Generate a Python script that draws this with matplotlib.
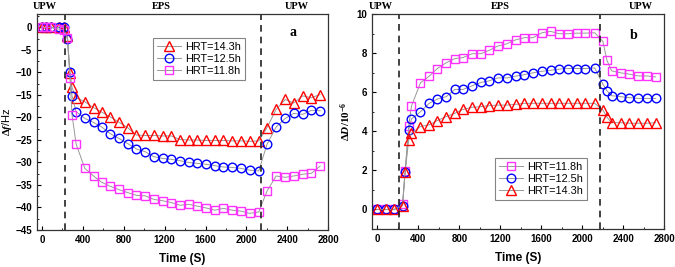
import matplotlib
matplotlib.use("Agg")
import matplotlib.pyplot as plt
from matplotlib.ticker import MultipleLocator

plt.rcParams['font.family'] = ['Liberation Sans', 'DejaVu Sans']
plt.rcParams['mathtext.fontset'] = 'custom'
plt.rcParams['mathtext.rm'] = 'Liberation Serif:bold'
plt.rcParams['mathtext.it'] = 'Liberation Serif:italic:bold'
plt.rcParams['mathtext.bf'] = 'Liberation Serif:bold'

# panel a: frequency shift
time_a = [0, 40, 85, 170, 215, 250, 275, 295, 335, 420, 505, 585, 670, 750, 840,
          925, 1010, 1095, 1180, 1265, 1350, 1435, 1520, 1605, 1690, 1775, 1860,
          1945, 2030, 2120, 2200, 2290, 2380, 2460, 2550, 2635, 2720]
df_143 = [0, 0, 0, 0, 0, -1.8, -10.1, -13.3, -15.6, -16.5, -17.8, -18.8, -19.9, -21.0,
          -22.3, -23.9, -24.0, -24.0, -24.1, -24.1, -24.9, -25.0, -25.0, -25.1, -25.1,
          -25.1, -25.2, -25.2, -25.3, -25.2, -22.3, -18.2, -16.0, -16.8, -15.2, -15.6, -14.9]
df_125 = [0, 0, 0, 0, 0, -2.6, -10.0, -15.2, -18.7, -20.2, -21.1, -22.1, -23.6, -24.6,
          -25.8, -27.0, -27.6, -28.7, -29.1, -29.3, -29.6, -30.0, -30.2, -30.4, -30.7,
          -31.0, -31.1, -31.3, -31.7, -31.9, -26.0, -22.1, -20.2, -19.1, -19.3, -18.4, -18.5]
df_118 = [0, 0, 0, -0.4, -0.5, -2.4, -11.3, -19.4, -25.9, -31.3, -33.0, -34.4, -35.3,
          -36.0, -36.7, -37.3, -37.4, -38.2, -38.5, -38.9, -39.5, -39.3, -39.7, -40.1,
          -40.6, -40.2, -40.6, -40.8, -41.3, -41.0, -36.4, -33.0, -33.3, -33.0, -32.6,
          -32.4, -30.8]

# panel b: dissipation shift
time_b = [0, 85, 165, 245, 270, 305, 332, 420, 505, 585, 670, 755, 835, 925, 1010,
          1090, 1175, 1265, 1350, 1435, 1520, 1605, 1690, 1775, 1860, 1945, 2030,
          2120, 2200, 2240, 2285, 2375, 2460, 2545, 2630, 2715]
dd_118 = [0, 0, 0, 0.3, 1.95, 4.27, 5.29, 6.48, 6.82, 7.21, 7.5, 7.72, 7.77, 7.97, 7.97,
          8.14, 8.36, 8.48, 8.68, 8.79, 8.79, 9.04, 9.11, 8.99, 8.99, 9.02, 9.02, 9.04,
          8.6, 7.63, 7.09, 6.99, 6.92, 6.83, 6.83, 6.78]
dd_125 = [0, 0, 0, 0.2, 1.9, 4.07, 4.63, 5.0, 5.43, 5.65, 5.77, 6.14, 6.14, 6.33, 6.5,
          6.58, 6.73, 6.73, 6.82, 6.9, 6.99, 7.07, 7.12, 7.18, 7.21, 7.21, 7.21, 7.24,
          6.41, 6.07, 5.82, 5.77, 5.72, 5.68, 5.68, 5.68]
dd_143 = [0, 0, 0, 0.2, 1.9, 3.56, 3.9, 4.24, 4.33, 4.55, 4.75, 4.92, 5.12, 5.23, 5.26,
          5.31, 5.34, 5.34, 5.38, 5.43, 5.43, 5.43, 5.43, 5.43, 5.43, 5.43, 5.43, 5.43,
          5.09, 4.72, 4.44, 4.44, 4.41, 4.41, 4.41, 4.44]

switch_a = [230, 2140]
switch_b = [212, 2175]

STYLE = {
    '14.3': dict(marker='^', mec='red', ms=7),
    '12.5': dict(marker='o', mec='blue', ms=6.2),
    '11.8': dict(marker='s', mec='#ff33ff', ms=5.4),
}

fig = plt.figure(figsize=(6.75, 2.67), dpi=100)
ax_a = fig.add_axes([0.0544, 0.1386, 0.432, 0.809])
ax_b = fig.add_axes([0.5516, 0.1423, 0.4326, 0.8053])


def draw(ax, t, series):
    for key, y in series:
        st = STYLE[key]
        ax.plot(t, y, color='#999999', lw=0.7, marker=st['marker'], ms=st['ms'],
                mfc='none', mec=st['mec'], mew=1.0, label=f'HRT={key}h')


draw(ax_a, time_a, [('14.3', df_143), ('12.5', df_125), ('11.8', df_118)])
draw(ax_b, time_b, [('11.8', dd_118), ('12.5', dd_125), ('14.3', dd_143)])

for ax, sw in ((ax_a, switch_a), (ax_b, switch_b)):
    for x in sw:
        ax.axvline(x, color='#222222', lw=1.2, ls=(0, (4, 3)))
    ax.set_xlim(-50, 2800)
    ax.xaxis.set_major_locator(MultipleLocator(400))
    ax.xaxis.set_minor_locator(MultipleLocator(200))
    ax.tick_params(which='both', direction='in', labelsize=7)
    ax.tick_params(which='major', length=3)
    ax.tick_params(which='minor', length=1.5)
    ax.set_xlabel('Time (S)', fontsize=8.5, fontweight='bold', labelpad=6)
    for s in ax.spines.values():
        s.set_linewidth(0.9)
        s.set_color('#333333')

ax_a.set_ylim(-45, 3)
ax_a.yaxis.set_major_locator(MultipleLocator(5))
ax_a.yaxis.set_minor_locator(MultipleLocator(2.5))
ax_b.set_ylim(-1, 10)
ax_b.yaxis.set_major_locator(MultipleLocator(2))
ax_b.yaxis.set_minor_locator(MultipleLocator(1))
for ax in (ax_a, ax_b):
    for lab in ax.get_xticklabels() + ax.get_yticklabels():
        lab.set_fontweight('bold')

ax_a.set_ylabel(r'$\Delta\mathit{f}$/Hz', fontsize=8)
ax_a.yaxis.set_label_coords(-0.078, 0.5)
ax_b.set_ylabel(r'$\Delta\mathit{D}/10^{-6}$', fontsize=8)
ax_b.yaxis.set_label_coords(-0.066, 0.5)

serif = dict(family='Liberation Serif', fontweight='bold', fontsize=7.5)
for ax, xs in ((ax_a, [30, 1170, 2490]), (ax_b, [30, 1200, 2570])):
    for x, txt in zip(xs, ['UPW', 'EPS', 'UPW']):
        ax.text(x, 1.035, txt, transform=ax.get_xaxis_transform(), ha='center',
                va='center', **serif)
ax_a.text(0.88, 0.915, 'a', transform=ax_a.transAxes, ha='center', va='center',
          family='Liberation Serif', fontweight='bold', fontsize=10)
ax_b.text(0.895, 0.9, 'b', transform=ax_b.transAxes, ha='center', va='center',
          family='Liberation Serif', fontweight='bold', fontsize=10)

leg_kw = dict(fontsize=7.8, frameon=True, fancybox=False, edgecolor='#666666',
              handlelength=2.2, handletextpad=0.4, borderpad=0.35, labelspacing=0.2,
              borderaxespad=0)
la = ax_a.legend(loc='upper left', bbox_to_anchor=(0.399, 0.889), **leg_kw)
lb = ax_b.legend(loc='upper left', bbox_to_anchor=(0.42, 0.33), **leg_kw)
for lg in (la, lb):
    lg.get_frame().set_linewidth(0.8)

fig.savefig('out.png', dpi=100)
